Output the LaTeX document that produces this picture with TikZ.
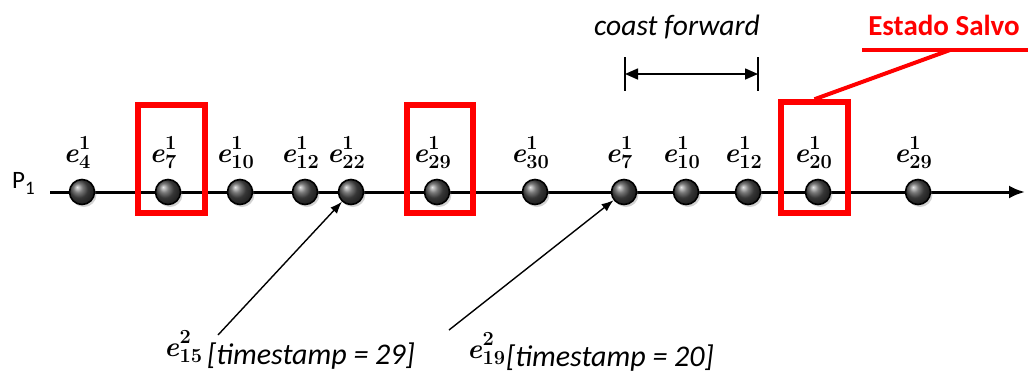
\documentclass[tikz,border=0pt]{standalone}
\usepackage{fontspec}
\setmainfont{Carlito}
\newfontfamily\evfont{Latin Modern Roman}
% event name: bold italic e with a stacked superscript (process) and subscript (index)
\newcommand\ev[2]{{\fontsize{28}{30}\selectfont\evfont\bfseries\itshape e}\kern0.5pt%
  {\fontsize{20}{20}\selectfont\evfont\bfseries\rlap{\raisebox{13pt}{#1}}\raisebox{-6pt}{#2}}}
\usetikzlibrary{arrows.meta,shadows}
\begin{document}
\begin{tikzpicture}[x=1pt,y=-1pt,
  event/.style={circle,draw=black,line width=1.6pt,minimum size=25pt,inner sep=0pt,
    shading=ball,ball color=black!70,
    drop shadow={shadow xshift=2pt,shadow yshift=-2.5pt,opacity=0.35}},
  evlabel/.style={inner sep=0pt,anchor=base},
  msglabel/.style={inner sep=0pt,anchor=base west},
  stamp/.style={font=\fontsize{30}{33}\selectfont\itshape,inner sep=0pt,anchor=base west},
  savebox/.style={draw=red,line width=5.5pt,inner sep=0pt},
  callout/.style={draw=red,line width=4pt},
  pointer/.style={line width=1.4pt,-{Latex[length=12pt,width=9pt]}},
  bar/.style={line width=1.6pt},
  txt/.style={font=\fontsize{29.5}{32}\selectfont\itshape,inner sep=0pt}]
\useasboundingbox (0,0) rectangle (1028,376);

% time axis of process P1
\coordinate (axstart) at (50,192);
\coordinate (axend) at (1025,192);
\draw[line width=3pt,-{Latex[length=16pt,width=13pt]}] (axstart) -- (axend);
\node[font=\fontsize{25}{28}\selectfont,anchor=base west,inner sep=0pt] (p1) at (12,188)
  {P{\fontsize{19}{20}\selectfont\raisebox{-6pt}{1}}};

% save-state boxes (behind the events)
\node[savebox,minimum width=67pt,minimum height=108pt] (sv1) at (171.5,159) {};
\node[savebox,minimum width=66pt,minimum height=108pt] (sv2) at (440,159) {};
\node[savebox,minimum width=67pt,minimum height=111pt] (sv3) at (814.5,157.5) {};

% events
\foreach \n/\x/\s in {1/82/4, 2/168/7, 3/240/10, 4/305/12, 5/351/22, 6/437/29,
                      7/535/30, 8/624/7, 9/686/10, 10/748/12, 11/818/20, 12/918/29} {
  \node[event] (b\n) at (\x,192) {};
  \node[evlabel] (l\n) at (\x-5,162) {\ev{1}{\s}};
}

% coast forward interval
\node[txt] (cf) at (677,27) {coast forward};
\coordinate (cfl) at (625,74);
\coordinate (cfr) at (758,74);
\draw[bar] (625,57) -- (625,91);
\draw[bar] (758,57) -- (758,91);
\draw[line width=1.6pt,{Triangle[length=13pt,width=11pt]}-{Triangle[length=13pt,width=11pt]}] (cfl) -- (cfr);

% saved-state callout
\node[font=\fontsize{29}{31}\selectfont\bfseries,text=red,inner sep=0pt] (es) at (944,25) {Estado Salvo};
\coordinate (ul) at (862,50);
\coordinate (ur) at (1028,50);
\coordinate (uk) at (950,50);
\draw[callout] (ul) -- (ur);
\draw[callout] (uk) -- (sv3.north);

% incoming messages from process 2
\node[msglabel] (m1e) at (164,356) {\ev{2}{15}};
\node[stamp] (m1t) at (207,364) {[timestamp = 29]};
\node[msglabel] (m2e) at (467,358) {\ev{2}{19}};
\node[stamp] (m2t) at (506,366) {[timestamp = 20]};
\coordinate (s1) at (218,335);
\coordinate (s2) at (449,330);
\draw[pointer] (s1) -- (b5);
\draw[pointer] (s2) -- (b8);
\end{tikzpicture}
\end{document}
